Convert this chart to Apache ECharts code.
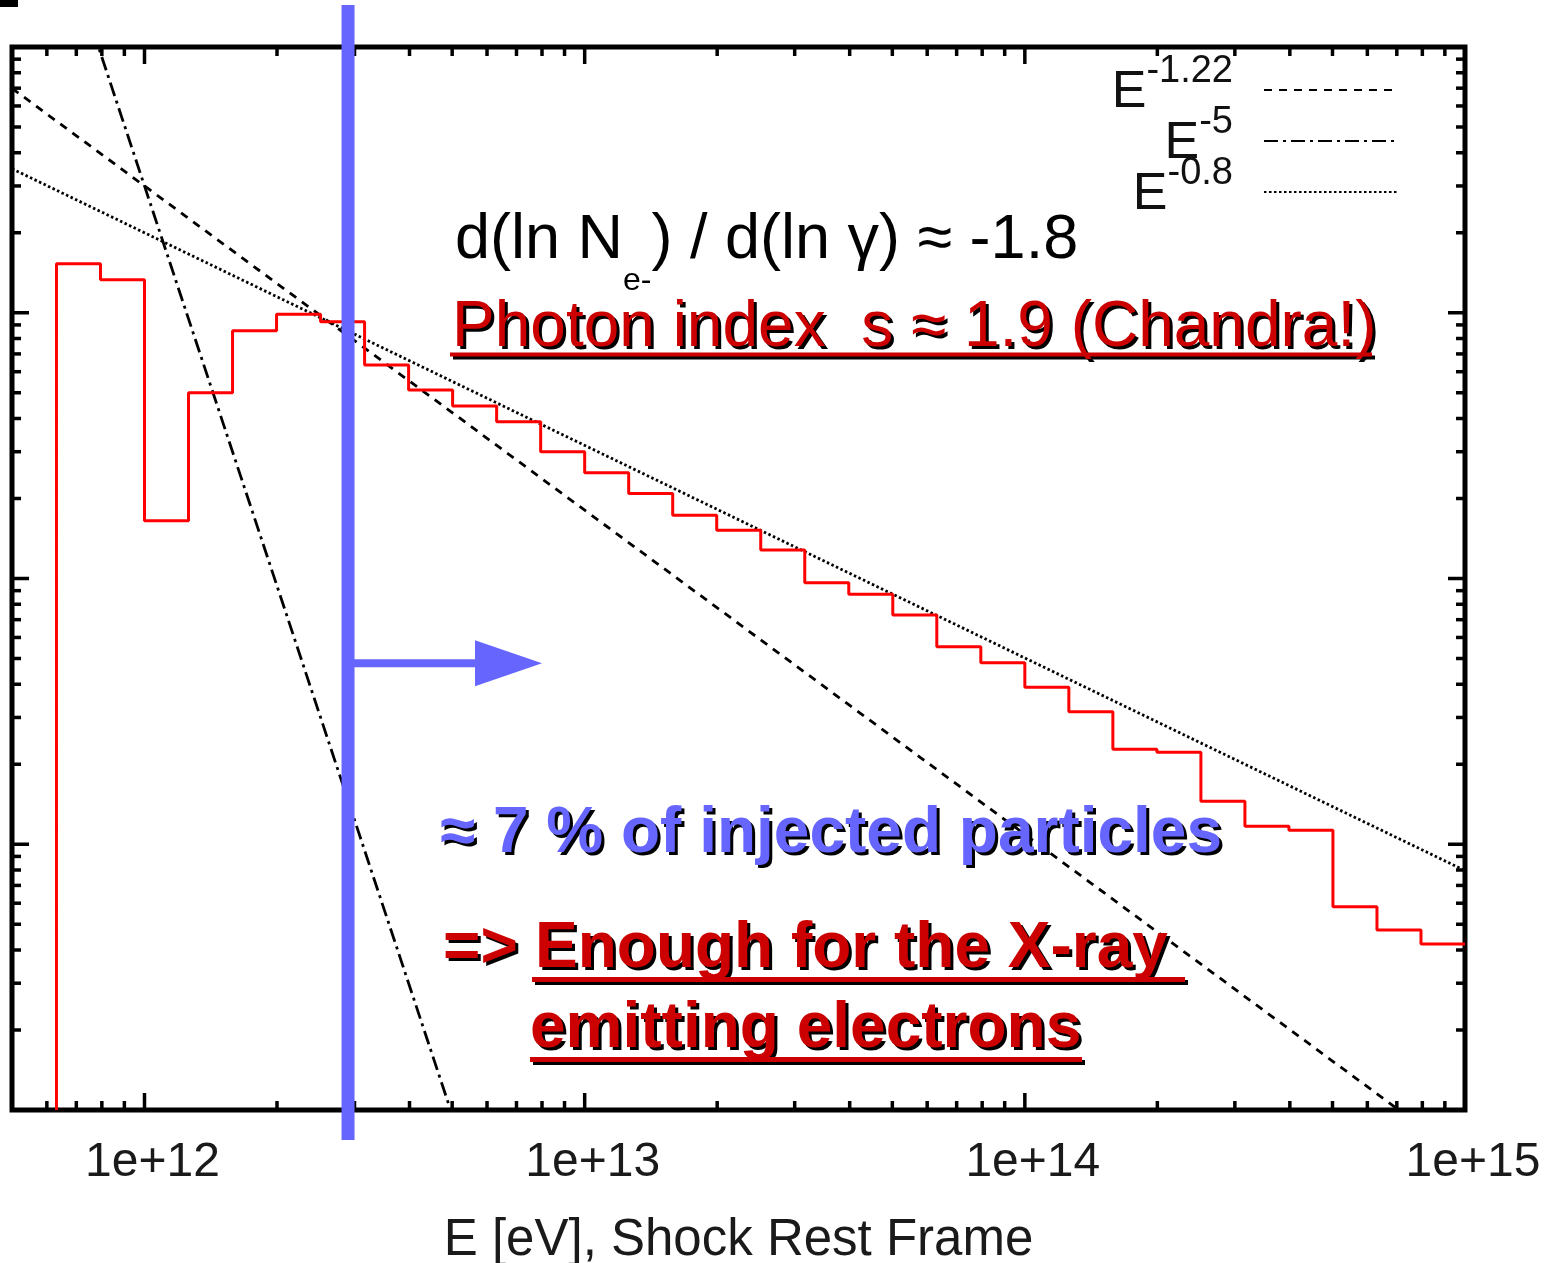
<!DOCTYPE html>
<html>
<head>
<meta charset="utf-8">
<title>Electron spectrum, shock rest frame</title>
<script src="https://cdn.jsdelivr.net/npm/echarts@6/dist/echarts.min.js"></script>
<style>
  html, body { margin: 0; padding: 0; background: #ffffff; }
  #chart { width: 1549px; height: 1263px; }
</style>
</head>
<body>
<div id="chart"></div>
<script>
const FONT = '"Liberation Sans", Arial, Helvetica, sans-serif';

// Axis ranges: electron energy [eV] and particle number (arbitrary units)
const energyRange = [5e11, 1e15];
const countRange = [1, 1e4];
const energyTickValues = [1e12, 1e13, 1e14, 1e15];
const energyTickLabels = ['1e+12', '1e+13', '1e+14', '1e+15'];
const energyAxisTitle = 'E [eV], Shock Rest Frame';

// Simulated electron spectrum: bin edges in log10(E / eV) and counts per bin
const binEdgesLog10 = [11.8, 11.9, 12.0, 12.1, 12.2, 12.3, 12.4, 12.5, 12.6, 12.7,
                       12.8, 12.9, 13.0, 13.1, 13.2, 13.3, 13.4, 13.5, 13.6, 13.7,
                       13.8, 13.9, 14.0, 14.1, 14.2, 14.3, 14.4, 14.5, 14.6, 14.7,
                       14.8, 14.9, 15.0];
const binCounts = [1530, 1330, 165, 500, 856, 987, 925, 636, 512, 446,
                   389, 300, 250, 209, 173, 152, 128, 96.4, 87.2, 72.9,
                   55.4, 48.2, 39.0, 31.5, 22.8, 22.2, 14.5, 11.7, 11.3, 5.82,
                   4.76, 4.21];

// Reference power laws N ~ E^p, each given by two points (E, N)
const powerLawNames = ['E^-1.22', 'E^-5', 'E^-0.8'];
const powerLawExponents = ['-1.22', '-5', '-0.8'];
const powerLawEnergies = [[5e11, 1e15], [7e11, 7e12], [5e11, 1e15]];
const powerLawCounts = [[6990, 0.656], [17850, 0.1785], [3482, 7.96]];

// Injection threshold and the arrow pointing to the accelerated tail
const thresholdEnergy = 2.9e12;
const arrowTipEnergy = 8e12;
const arrowLevel = 48;

// Line dash patterns for the three reference laws
const powerLawDash = [[8, 7], [14, 5, 3, 5], [2.5, 2.5]];

// Step outline of the histogram, starting from the bottom of the plot
const histPoints = [[Math.pow(10, binEdgesLog10[0]), countRange[0]]];
binCounts.forEach(function (c, i) {
  histPoints.push([Math.pow(10, binEdgesLog10[i]), c]);
  histPoints.push([Math.pow(10, binEdgesLog10[i + 1]), c]);
});

// Log-decade tick marks (1..9 per decade) for the framed plot
const xTicks = [];
for (let d = 11; d <= 15; d++) {
  for (let m = 1; m <= 9; m++) {
    const v = m * Math.pow(10, d);
    if (v > energyRange[0] * 1.001 && v <= energyRange[1] * 1.001) xTicks.push([v, countRange[0], m === 1 ? 1 : 0]);
  }
}
const yTicks = [];
for (let d = 0; d <= 4; d++) {
  for (let m = 1; m <= 9; m++) {
    const v = m * Math.pow(10, d);
    if (v > countRange[0] * 1.001 && v < countRange[1] * 0.999) yTicks.push([energyRange[0], v, m === 1 ? 1 : 0]);
  }
}

function energyLabel(value) {
  const lv = Math.log10(value);
  for (let i = 0; i < energyTickValues.length; i++) {
    if (Math.abs(lv - Math.log10(energyTickValues[i])) < 1e-6) return energyTickLabels[i];
  }
  return '';
}

const tickStyle = { stroke: '#000', lineWidth: 3.5 };

function drawXTick(params, api) {
  const e = api.value(0);
  const len = api.value(2) ? 17 : 9;
  const b = api.coord([e, countRange[0]]);
  const t = api.coord([e, countRange[1]]);
  return { type: 'group', children: [
    { type: 'line', shape: { x1: b[0], y1: b[1], x2: b[0], y2: b[1] - len }, style: tickStyle },
    { type: 'line', shape: { x1: t[0], y1: t[1], x2: t[0], y2: t[1] + len }, style: tickStyle }
  ] };
}

function drawYTick(params, api) {
  const v = api.value(1);
  const len = api.value(2) ? 17 : 9;
  const l = api.coord([energyRange[0], v]);
  const r = api.coord([energyRange[1], v]);
  return { type: 'group', children: [
    { type: 'line', shape: { x1: l[0], y1: l[1], x2: l[0] + len, y2: l[1] }, style: tickStyle },
    { type: 'line', shape: { x1: r[0], y1: r[1], x2: r[0] - len, y2: r[1] }, style: tickStyle }
  ] };
}

function drawThreshold(params, api) {
  const blue = '#6666ff';
  const p = api.coord([api.value(0), api.value(1)]);
  const tip = api.coord([api.value(2), api.value(1)]);
  const top = api.coord([api.value(0), countRange[1]])[1] - 42;
  const bottom = api.coord([api.value(0), countRange[0]])[1] + 30;
  const headLen = 67, headHalf = 23, shaft = 8;
  return { type: 'group', children: [
    { type: 'rect', shape: { x: p[0] - 6.5, y: top, width: 13, height: bottom - top }, style: { fill: blue } },
    { type: 'rect', shape: { x: p[0], y: p[1] - shaft / 2, width: tip[0] - headLen - p[0] + 1, height: shaft }, style: { fill: blue } },
    { type: 'polygon', shape: { points: [[tip[0] - headLen, p[1] - headHalf], [tip[0], p[1]], [tip[0] - headLen, p[1] + headHalf]] }, style: { fill: blue } }
  ] };
}

// Text with a hard black drop shadow, as used by the slide annotations
function shadowText(x, y, text, font, color) {
  return [
    { type: 'text', x: x + 3, y: y + 3, z: 20, style: { text: text, font: font, fill: '#000', verticalAlign: 'top', textVerticalAlign: 'top' } },
    { type: 'text', x: x, y: y, z: 22, style: { text: text, font: font, fill: color, verticalAlign: 'top', textVerticalAlign: 'top' } }
  ];
}
function underline(x1, x2, y, h, color) {
  return [
    { type: 'rect', z: 20, shape: { x: x1 + 3, y: y + 3, width: x2 - x1, height: h }, style: { fill: '#000' } },
    { type: 'rect', z: 22, shape: { x: x1, y: y, width: x2 - x1, height: h }, style: { fill: color } }
  ];
}

const RED = '#cc0000';
const BLUE_TEXT = '#6666ff';
const fontRegular = '64px ' + FONT;
const fontBold = 'bold 64px ' + FONT;

const graphicElements = [].concat(
  [{ type: 'rect', z: 20, shape: { x: 0, y: 0, width: 18, height: 7 }, style: { fill: '#000' } }],
  [{
    type: 'text', x: 455, y: 208.7, z: 22,
    style: {
      text: '{a|d(ln N}{b|e-}{a|) / d(ln γ) ≈ -1.8}',
      verticalAlign: 'top', textVerticalAlign: 'top',
      rich: {
        a: { fontFamily: FONT, fontSize: 63, lineHeight: 63, verticalAlign: 'top', fill: '#000' },
        b: { fontFamily: FONT, fontSize: 32, lineHeight: 88, verticalAlign: 'bottom', fill: '#000' }
      }
    }
  }],
  shadowText(452, 296, 'Photon index  s ≈ 1.9 (Chandra!)', fontRegular, RED),
  underline(450, 1372, 352.5, 4, RED),
  shadowText(440, 802, '≈ 7 % of injected particles', fontBold, BLUE_TEXT),
  shadowText(443, 917, '=>', fontBold, RED),
  shadowText(535, 917, 'Enough for the X-ray', fontBold, RED),
  underline(532, 1185, 977, 5, RED),
  shadowText(530, 997, 'emitting electrons', fontBold, RED),
  underline(530, 1082, 1057, 5, RED)
);

const series = [];
powerLawNames.forEach(function (name, i) {
  series.push({
    name: name,
    type: 'line',
    data: [[powerLawEnergies[i][0], powerLawCounts[i][0]], [powerLawEnergies[i][1], powerLawCounts[i][1]]],
    symbol: 'none',
    silent: true,
    clip: true,
    z: 2,
    itemStyle: { color: '#000' },
    lineStyle: { color: '#000', width: 2.8, type: powerLawDash[i] }
  });
});
series.push({
  name: 'spectrum',
  type: 'line',
  data: histPoints,
  symbol: 'none',
  silent: true,
  clip: true,
  z: 3,
  lineStyle: { color: '#ff0000', width: 3 }
});
series.push({ type: 'custom', name: 'xticks', data: xTicks, encode: { x: 0, y: 1 }, renderItem: drawXTick, silent: true, clip: false, z: 4 });
series.push({ type: 'custom', name: 'yticks', data: yTicks, encode: { x: 0, y: 1 }, renderItem: drawYTick, silent: true, clip: false, z: 4 });
series.push({
  type: 'custom', name: 'threshold',
  data: [[thresholdEnergy, arrowLevel, arrowTipEnergy]],
  encode: { x: 0, y: 1 },
  renderItem: drawThreshold, silent: true, clip: false, z: 6
});

const chart = echarts.init(document.getElementById('chart'), null, { renderer: 'canvas' });
chart.setOption({
  animation: false,
  backgroundColor: '#ffffff',
  tooltip: { show: false },
  grid: {
    left: 12, right: 84, top: 47, bottom: 153,
    show: true, borderColor: '#000', borderWidth: 5, backgroundColor: 'rgba(0,0,0,0)',
    containLabel: false, outerBoundsMode: 'none'
  },
  xAxis: {
    type: 'log', logBase: 10,
    min: energyRange[0], max: energyRange[1],
    name: energyAxisTitle, nameLocation: 'middle', nameGap: 105,
    nameTextStyle: { fontFamily: FONT, fontSize: 51, color: '#1a1a1a' },
    axisLine: { show: false }, axisTick: { show: false }, splitLine: { show: false },
    axisLabel: {
      fontFamily: FONT, fontSize: 48, color: '#1a1a1a', margin: 29, padding: [0, 0, 0, 16],
      formatter: energyLabel, showMinLabel: true, showMaxLabel: true
    }
  },
  yAxis: {
    type: 'log', logBase: 10,
    min: countRange[0], max: countRange[1],
    axisLine: { show: false }, axisTick: { show: false },
    axisLabel: { show: false }, splitLine: { show: false }
  },
  legend: {
    data: powerLawNames,
    orient: 'vertical', align: 'right',
    right: 149, top: 53, padding: 0,
    itemWidth: 135, itemHeight: 20, itemGap: -15,
    selectedMode: false,
    itemStyle: { color: 'rgba(0,0,0,0)', opacity: 0, borderWidth: 0 },
    formatter: function (name) {
      return '{e|E}{s|' + powerLawExponents[powerLawNames.indexOf(name)] + '}';
    },
    textStyle: {
      fontFamily: FONT, color: '#111', padding: [0, 0, 8, 0],
      rich: {
        e: { fontFamily: FONT, fontSize: 52, lineHeight: 66, verticalAlign: 'bottom', color: '#111' },
        s: { fontFamily: FONT, fontSize: 38, verticalAlign: 'top', color: '#111', padding: [0, 26, 0, 0] }
      }
    }
  },
  graphic: { elements: graphicElements },
  series: series
});
</script>
</body>
</html>
